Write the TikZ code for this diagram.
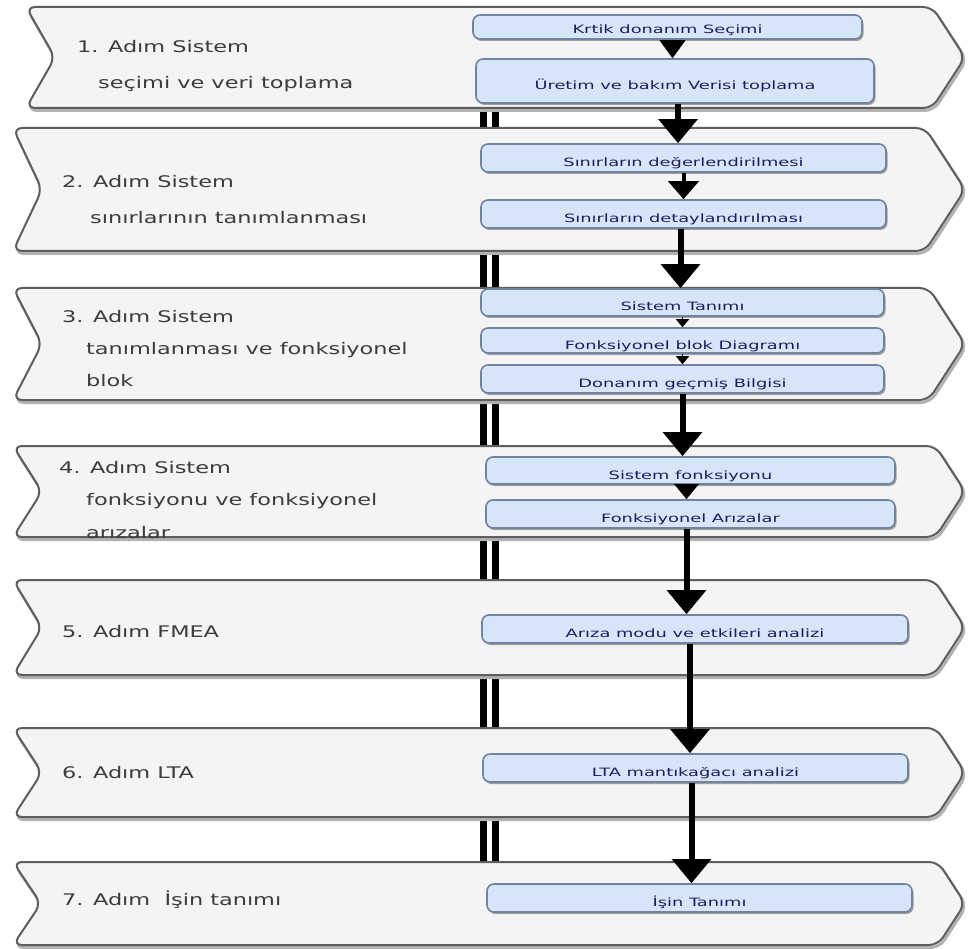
\documentclass[tikz,border=0pt]{standalone}
\usepackage{fontspec}
\usetikzlibrary{arrows.meta,shadows,calc}
\newfontfamily\bandfont[FakeStretch=1.4]{DejaVu Sans}
\newfontfamily\boxfont[FakeStretch=1.55]{DejaVu Sans}
\definecolor{bandfill}{HTML}{F4F4F4}
\definecolor{bandline}{HTML}{5E5E5E}
\definecolor{boxfill}{HTML}{D6E5F8}
\definecolor{boxline}{HTML}{7084A2}
\definecolor{boxtext}{HTML}{1E1E5E}
\definecolor{bandtext}{HTML}{3C3C3C}

\tikzset{
  band/.style={draw=bandline, line width=2pt, rounded corners=9pt, fill=bandfill,
    preaction={draw=black!30, line width=3pt,
      transform canvas={xshift=1.5pt,yshift=-2.5pt}}},
  stepbox/.style={draw=boxline, line width=1.6pt, rounded corners=7pt, fill=boxfill,
    font=\boxfont\fontsize{11.5}{13}\selectfont, text=boxtext,
    inner sep=0pt, text height=17pt, text depth=0pt,
    drop shadow={shadow xshift=1.5pt, shadow yshift=-2pt, opacity=0.35, fill=black}},
  steptext/.style={anchor=base west, inner sep=0pt,
    font=\bandfont\fontsize{16}{19}\selectfont, text=bandtext},
  bigarrow/.style={line width=6pt, -{Triangle[width=38pt,length=24pt]}},
  midarrow/.style={line width=4pt, -{Triangle[width=30pt,length=18pt]}},
  smallarrow/.style={line width=1.5pt, -{Triangle[width=13pt,length=8pt]}},
  wedgearrow/.style={line width=2.5pt, -{Triangle[width=24pt,length=15pt]}},
  headonly/.style={line width=1pt, -{Triangle[width=26pt,length=18pt]}},
  divider/.style={line width=7pt, draw=black},
}

% chevron band: #1 top, #2 bottom, #3 left x, #4 notch depth
\newcommand\bandshape[4]{%
  \path[band] (#3,#1) -- ({965-0.65*(#2-#1)/2},#1) -- (965,{(#1+#2)/2})
    -- ({965-0.65*(#2-#1)/2},#2) -- (#3,#2) -- ({#3+#4},{(#1+#2)/2}) -- cycle;}

\begin{document}
\begin{tikzpicture}[x=1pt,y=-1pt]
\fill[white] (0,0) rectangle (971,949);
\useasboundingbox (0,0) rectangle (971,949);

% double divider between the steps
\draw[divider] (483,60) -- (483,900);
\draw[divider] (495,60) -- (495,900);

% step bands
\bandshape{7}{108}{26}{29}
\bandshape{128}{251}{13}{29}
\bandshape{288}{400}{13}{29}
\bandshape{446}{537}{13}{29}
\bandshape{580}{675}{13}{29}
\bandshape{728}{817}{13}{29}
\bandshape{862}{945}{13}{28}

% step titles
\node[steptext] (t1a) at (77,53) {1. Adım Sistem};
\node[steptext] (t1b) at (98,89) {seçimi ve veri toplama};
\node[steptext] (t2a) at (62,188) {2. Adım Sistem};
\node[steptext] (t2b) at (90,224) {sınırlarının tanımlanması};
\node[steptext] (t3a) at (62,323) {3. Adım Sistem};
\node[steptext] (t3b) at (86,354) {tanımlanması ve fonksiyonel};
\node[steptext] (t3c) at (86,386) {blok};
\node[steptext] (t4a) at (59,473) {4. Adım Sistem};
\node[steptext] (t4b) at (86,505) {fonksiyonu ve fonksiyonel};
\node[steptext] (t4c) at (86,538) {arızalar};
\node[steptext] (t5) at (62,637) {5. Adım FMEA};
\node[steptext] (t6) at (62,778) {6. Adım LTA};
\node[steptext] (t7) at (62,905) {7. Adım~ İşin tanımı};

% activity boxes
\node[stepbox, minimum width=389pt, minimum height=24pt, text height=13pt] (k) at (667.5,27) {Krtik donanım Seçimi};
\node[stepbox, minimum width=398pt, minimum height=44pt] (u) at (675,81) {Üretim ve bakım Verisi toplama};
\node[stepbox, minimum width=405pt, minimum height=28pt] (b2a) at (683.5,158) {Sınırların değerlendirilmesi};
\node[stepbox, minimum width=405pt, minimum height=28pt] (b2b) at (683.5,214) {Sınırların detaylandırılması};
\node[stepbox, minimum width=403pt, minimum height=27pt] (b3a) at (682.5,302.5) {Sistem Tanımı};
\node[stepbox, minimum width=403pt, minimum height=25pt] (b3b) at (682.5,340.5) {Fonksiyonel blok Diagramı};
\node[stepbox, minimum width=403pt, minimum height=28pt] (b3c) at (682.5,379) {Donanım geçmiş Bilgisi};
\node[stepbox, minimum width=409pt, minimum height=27pt] (b4a) at (690.5,470.5) {Sistem fonksiyonu};
\node[stepbox, minimum width=409pt, minimum height=28pt] (b4b) at (690.5,514) {Fonksiyonel Arızalar};
\node[stepbox, minimum width=426pt, minimum height=28pt] (b5) at (695,629) {Arıza modu ve etkileri analizi};
\node[stepbox, minimum width=425pt, minimum height=28pt] (b6) at (695.5,768) {LTA mantıkağacı analizi};
\node[stepbox, minimum width=425pt, minimum height=28pt] (b7) at (699.5,898) {İşin Tanımı};

% flow arrows
\draw[headonly] ([xshift=5pt]k.south) -- ([xshift=5pt]k.south |- u.north);
\draw[bigarrow] ([xshift=3pt]u.south) -- ([xshift=3pt]u.south |- b2a.north);
\draw[midarrow] (b2a.south) -- (b2a.south |- b2b.north);
\draw[bigarrow] ([xshift=-3pt]b2b.south) -- ([xshift=-3pt]b2b.south |- b3a.north);
\draw[smallarrow] (b3a.south) -- (b3a.south |- b3b.north);
\draw[smallarrow] (b3b.south) -- (b3b.south |- b3c.north);
\draw[bigarrow] (b3c.south) -- (b3c.south |- b4a.north);
\draw[wedgearrow] ([xshift=-4pt]b4a.south) -- ([xshift=-4pt]b4a.south |- b4b.north);
\draw[bigarrow] ([xshift=-4pt]b4b.south) -- ([xshift=-4pt]b4b.south |- b5.north);
\draw[bigarrow] ([xshift=-5pt]b5.south) -- ([xshift=-5pt]b5.south |- b6.north);
\draw[bigarrow] ([xshift=-4pt]b6.south) -- ([xshift=-4pt]b6.south |- b7.north);
\end{tikzpicture}
\end{document}
